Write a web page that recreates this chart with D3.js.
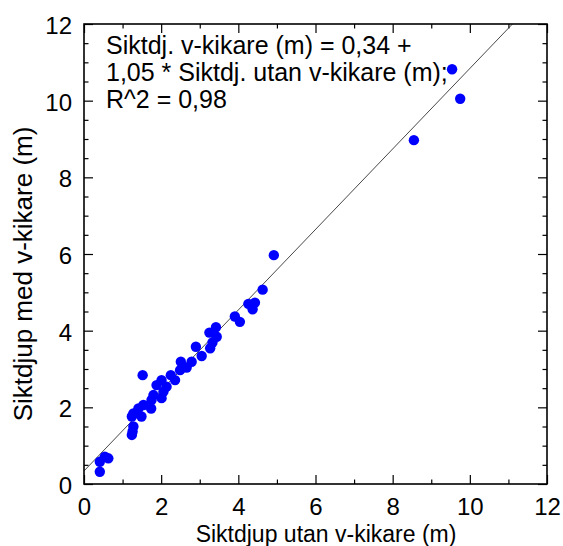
<!DOCTYPE html>
<html>
<head>
<meta charset="utf-8">
<script src="https://cdn.jsdelivr.net/npm/d3@7"></script>
<style>
  body { margin: 0; background: #fff; }
  svg text { font-family: "Liberation Sans", Arial, sans-serif; fill: #000; }
  .axis path { display: none; }
  .axis line { stroke: #000; stroke-width: 1.2; }
</style>
</head>
<body>
<svg id="chart" width="563" height="546"></svg>
<script>
// Siktdjup utan v-kikare (m)
var utan = [0.41, 0.41, 0.54, 0.63,
  1.24, 1.26, 1.28, 1.24, 1.28, 1.49, 1.41, 1.54, 1.74, 1.52,
  1.75, 1.80, 2.01, 2.06, 1.88, 2.14, 2.01, 2.36, 2.25, 2.49,
  2.66, 2.51, 2.79, 2.90, 3.05, 3.27, 3.33, 3.44, 3.25, 3.42,
  3.91, 4.04, 4.37, 4.26, 4.43, 4.63, 4.92, 8.55, 9.54, 9.75];
// Siktdjup med v-kikare (m)
var med = [0.32, 0.58, 0.71, 0.67,
  1.28, 1.37, 1.50, 1.76, 1.84, 1.76, 1.97, 2.06, 1.97, 2.84,
  2.19, 2.32, 2.24, 2.41, 2.58, 2.54, 2.71, 2.71, 2.84, 2.97,
  3.04, 3.19, 3.19, 3.58, 3.34, 3.54, 3.69, 3.84, 3.95, 4.09,
  4.37, 4.23, 4.56, 4.70, 4.73, 5.07, 5.97, 8.97, 10.82, 10.05];

var intercept = 0.34, slope = 1.05;
var majorTicks = [0, 2, 4, 6, 8, 10, 12];
var xMinor = [1, 3, 5, 7, 9, 11];
var yMinor = d3.range(0.5, 12, 0.5).filter(function(v) { return v % 2 != 0; });
var noteLines = ["Siktdj. v-kikare (m) = 0,34 +",
  "1,05 * Siktdj. utan v-kikare (m);",
  "R^2 = 0,98"];

var svg = d3.select("#chart"),
    margin = {top: 24, right: 16, bottom: 62, left: 84},
    width = +svg.attr("width") - margin.left - margin.right,
    height = +svg.attr("height") - margin.top - margin.bottom;

var x = d3.scaleLinear().domain([0, 12]).range([0, width]),
    y = d3.scaleLinear().domain([0, 12]).range([height, 0]);

var g = svg.append("g")
    .attr("transform", "translate(" + margin.left + "," + margin.top + ")");

// ticks point inward on all four sides
g.append("g").attr("class", "axis")
    .attr("transform", "translate(0," + height + ")")
    .call(d3.axisBottom(x).tickValues(majorTicks).tickSize(-9).tickPadding(14))
    .selectAll("text").style("font-size", "24px");
g.append("g").attr("class", "axis")
    .attr("transform", "translate(0," + height + ")")
    .call(d3.axisBottom(x).tickValues(xMinor).tickSize(-4.5).tickFormat(""));
g.append("g").attr("class", "axis")
    .call(d3.axisTop(x).tickValues(majorTicks).tickSize(-9).tickFormat(""));
g.append("g").attr("class", "axis")
    .call(d3.axisTop(x).tickValues(xMinor).tickSize(-4.5).tickFormat(""));

g.append("g").attr("class", "axis")
    .call(d3.axisLeft(y).tickValues(majorTicks).tickSize(-9).tickPadding(12))
    .selectAll("text").style("font-size", "24px").attr("dy", "0.4em");
g.append("g").attr("class", "axis")
    .call(d3.axisLeft(y).tickValues(yMinor).tickSize(-4.5).tickFormat(""));
g.append("g").attr("class", "axis")
    .attr("transform", "translate(" + width + ",0)")
    .call(d3.axisRight(y).tickValues(majorTicks).tickSize(-9).tickFormat(""));
g.append("g").attr("class", "axis")
    .attr("transform", "translate(" + width + ",0)")
    .call(d3.axisRight(y).tickValues(yMinor).tickSize(-4.5).tickFormat(""));

// regression line
var x1 = (12 - intercept) / slope;
g.append("line")
    .attr("x1", x(0)).attr("y1", y(intercept))
    .attr("x2", x(x1)).attr("y2", y(12))
    .attr("stroke", "#333").attr("stroke-width", 0.9);

g.selectAll(".dot")
    .data(utan)
  .enter().append("circle")
    .attr("class", "dot")
    .attr("cx", function(d) { return x(d); })
    .attr("cy", function(d, i) { return y(med[i]); })
    .attr("r", 5.2)
    .attr("fill", "#0000ff");

g.append("rect")
    .attr("width", width).attr("height", height)
    .attr("fill", "none").attr("stroke", "#000").attr("stroke-width", 1.6);

g.selectAll(".note")
    .data(noteLines)
  .enter().append("text")
    .attr("class", "note")
    .attr("x", 22)
    .attr("y", function(d, i) { return 30 + i * 27; })
    .style("font-size", "25px")
    .text(function(d) { return d; });

svg.append("text")
    .attr("x", 326).attr("y", 542)
    .attr("text-anchor", "middle")
    .style("font-size", "23px")
    .text("Siktdjup utan v-kikare (m)");

svg.append("text")
    .attr("transform", "translate(32,274) rotate(-90)")
    .attr("text-anchor", "middle")
    .style("font-size", "26px")
    .text("Siktdjup med v-kikare (m)");
</script>
</body>
</html>
